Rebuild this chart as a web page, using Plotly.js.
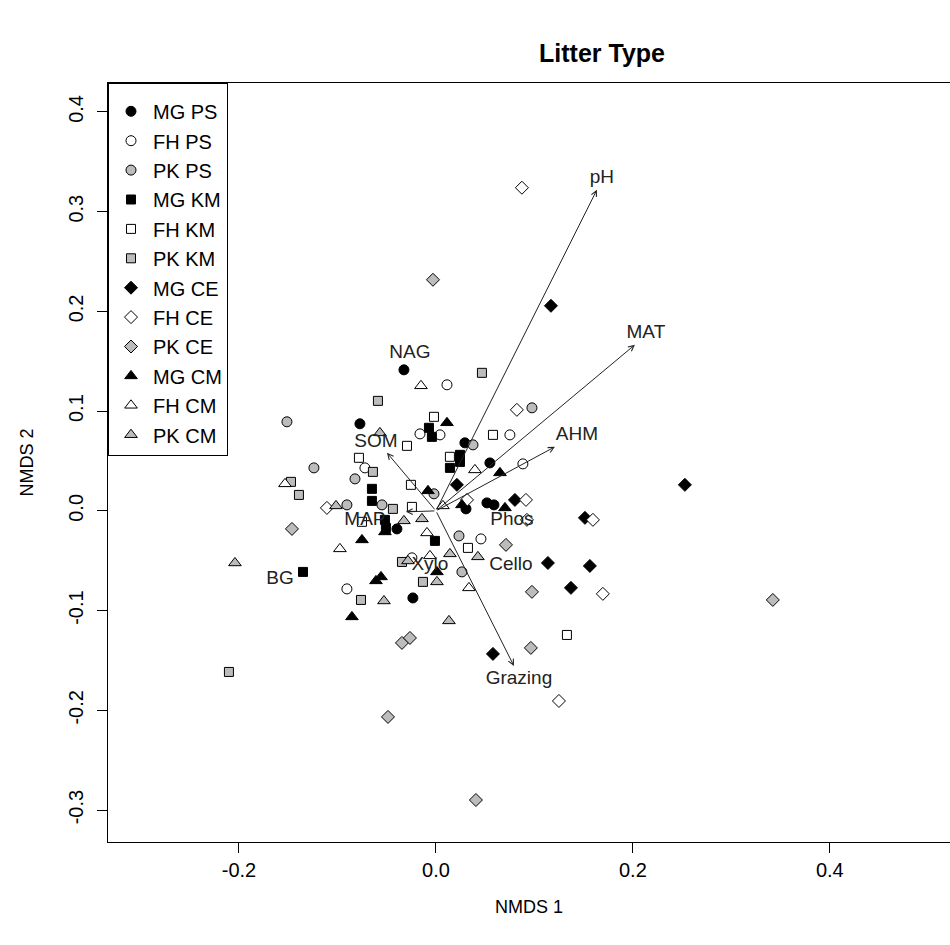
<!DOCTYPE html>
<html>
<head>
<meta charset="utf-8">
<script src="https://cdn.plot.ly/plotly-3.0.1.min.js"></script>
<style>html,body{margin:0;padding:0;background:#fff;}</style>
</head>
<body>
<div id="chart" style="width:950px;height:945px;"></div>
<script>
// ---------- data ----------
const groupNames = ['MG PS','FH PS','PK PS','MG KM','FH KM','PK KM','MG CE','FH CE','PK CE','MG CM','FH CM','PK CM'];

const MG_PS_x = [-0.0325,-0.0772,0.0294,0.0548,0.0518,0.0589,-0.0396,-0.0234,0.0305];
const MG_PS_y = [0.1414,0.0873,0.0682,0.0481,0.0080,0.0060,-0.0181,-0.0873,0.0020];
const FH_PS_x = [0.0112,-0.0162,0.0041,0.0751,0.0883,-0.0721,0.0457,-0.0904,-0.0244];
const FH_PS_y = [0.1264,0.0772,0.0762,0.0762,0.0471,0.0431,-0.0281,-0.0782,-0.0471];
const PK_PS_x = [-0.1513,-0.1239,-0.0822,-0.0904,-0.0548,-0.0020,0.0376,0.0975,0.0234,0.0264];
const PK_PS_y = [0.0893,0.0431,0.0321,0.0060,0.0060,0.0171,0.0662,0.1033,-0.0251,-0.0612];

const MG_KM_x = [-0.0071,-0.0041,0.0244,0.0244,0.0142,-0.0650,-0.0650,-0.0518,-0.0508,-0.0010,-0.1350];
const MG_KM_y = [0.0833,0.0742,0.0562,0.0491,0.0431,0.0221,0.0100,-0.0090,-0.0171,-0.0301,-0.0612];
const FH_KM_x = [-0.0020,-0.0294,0.0579,0.0142,-0.0782,-0.0254,-0.0244,-0.0751,0.0325,0.1330];
const FH_KM_y = [0.0943,0.0652,0.0762,0.0542,0.0532,0.0261,0.0040,-0.0110,-0.0371,-0.1244];
const PK_KM_x = [0.0467,-0.0589,-0.0640,-0.1472,-0.1391,-0.0437,-0.0345,-0.0132,-0.0761,-0.2102];
const PK_KM_y = [0.1384,0.1103,0.0391,0.0291,0.0160,0.0020,-0.0512,-0.0712,-0.0893,-0.1615];

const MG_CE_x = [0.1168,0.0213,0.0802,0.1513,0.2528,0.1137,0.1563,0.1371,0.0579];
const MG_CE_y = [0.2056,0.0261,0.0110,-0.0070,0.0261,-0.0522,-0.0552,-0.0772,-0.1434];
const FH_CE_x = [0.0873,0.0822,0.0315,0.0914,0.1594,0.0924,0.1695,0.1249,-0.1107];
const FH_CE_y = [0.3240,0.1013,0.0110,0.0110,-0.0090,-0.0090,-0.0832,-0.1906,0.0030];
const PK_CE_x = [-0.0030,-0.1462,0.0711,0.0975,0.0964,0.3421,-0.0345,-0.0264,-0.0487,0.0406];
const PK_CE_y = [0.2317,-0.0181,-0.0341,-0.0812,-0.1374,-0.0893,-0.1324,-0.1274,-0.2066,-0.2899];

const MG_CM_x = [0.0112,0.0650,-0.0081,0.0701,0.0264,-0.0518,-0.0751,-0.0609,-0.0558,0.0010,-0.0853];
const MG_CM_y = [0.0883,0.0381,0.0201,0.0030,0.0060,-0.0211,-0.0291,-0.0702,-0.0662,-0.0612,-0.1063];
const FH_CM_x = [-0.0152,0.0396,0.0071,-0.1533,-0.0975,-0.0091,-0.0061,0.0335];
const FH_CM_y = [0.1254,0.0411,0.0050,0.0271,-0.0381,-0.0221,-0.0451,-0.0772];
const PK_CM_x = [-0.0569,-0.1015,-0.0325,-0.0142,-0.0284,0.0142,0.0426,0.0010,-0.0528,0.0132,-0.2041];
const PK_CM_y = [0.0782,0.0050,-0.0100,-0.0080,-0.0502,-0.0431,-0.0461,-0.0712,-0.0903,-0.1103,-0.0522];

// environmental vectors (arrow tips) and their labels
const vecNames  = ['pH','MAT','AHM','Grazing','SOM','MAP'];
const vecTipX   = [0.1635,0.2020,0.1208,0.0792,-0.0497,-0.0305];
const vecTipY   = [0.3220,0.1665,0.0642,-0.1555,0.0582,-0.0010];
const vecLabX   = [0.1685,0.2132,0.1431,0.0843,-0.0609,-0.0721];
const vecLabY   = [0.3340,0.1785,0.0762,-0.1685,0.0692,-0.0090];

// enzyme labels (text only)
const enzNames = ['NAG','BG','Xylo','Cello','Phos'];
const enzX     = [-0.0264,-0.1584,-0.0061,0.0761,0.0772];
const enzY     = [0.1585,-0.0682,-0.0542,-0.0542,-0.0090];

// axis ticks
const xTickVals = [-0.2,0.0,0.2,0.4];
const xTickText = ['-0.2','0.0','0.2','0.4'];
const yTickVals = [-0.3,-0.2,-0.1,0.0,0.1,0.2,0.3,0.4];
const yTickText = ['-0.3','-0.2','-0.1','0.0','0.1','0.2','0.3','0.4'];

// ---------- styling ----------
const FONT = 'Liberation Sans, Arial, sans-serif';
const GRAY = '#bcbcbc';
const xs = [MG_PS_x,FH_PS_x,PK_PS_x,MG_KM_x,FH_KM_x,PK_KM_x,MG_CE_x,FH_CE_x,PK_CE_x,MG_CM_x,FH_CM_x,PK_CM_x];
const ys = [MG_PS_y,FH_PS_y,PK_PS_y,MG_KM_y,FH_KM_y,PK_KM_y,MG_CE_y,FH_CE_y,PK_CE_y,MG_CM_y,FH_CM_y,PK_CM_y];
const symbols = ['circle','square','diamond','triangle-up'];
const sizes   = [10,9,10,11];
const fills   = ['#000000','#ffffff',GRAY];

const traces = [];
groupNames.forEach((name,i)=>{
  const s = Math.floor(i/3), f = i%3;
  traces.push({
    type:'scatter', mode:'markers', name:name,
    x: xs[i], y: ys[i], legendgroup:'g'+i,
    marker:{symbol:symbols[s], size:sizes[s], color:fills[f], line:{color:'#000', width:1}},
    hoverinfo:'skip'
  });
});
traces.push({
  type:'scatter', mode:'text', x:vecLabX, y:vecLabY, text:vecNames, showlegend:false,
  textfont:{family:FONT, size:19, color:'#222'}, hoverinfo:'skip'
});
traces.push({
  type:'scatter', mode:'text', x:enzX, y:enzY, text:enzNames, showlegend:false,
  textfont:{family:FONT, size:19, color:'#222'}, hoverinfo:'skip'
});

const annotations = vecNames.map((n,i)=>({
  x:vecTipX[i], y:vecTipY[i], xref:'x', yref:'y',
  ax:0, ay:0, axref:'x', ayref:'y', text:'', showarrow:true,
  arrowhead:5, arrowsize:1.1, arrowwidth:1, arrowcolor:'#222', standoff:0, startstandoff:0
}));

const layout = {
  width:950, height:945,
  margin:{l:108, r:0, t:83, b:103},
  paper_bgcolor:'#fff', plot_bgcolor:'#fff',
  font:{family:FONT, color:'#000'},
  title:{text:'<b>Litter Type</b>', font:{family:FONT, size:25, color:'#000'},
         xref:'paper', x:0.5867, xanchor:'center', yref:'container', y:0.944, yanchor:'middle'},
  xaxis:{range:[-0.333,0.522], showgrid:false, zeroline:false, showline:true, mirror:true,
         linecolor:'#000', linewidth:1, ticks:'outside', ticklen:10, tickcolor:'#000',
         tickvals:xTickVals, ticktext:xTickText, tickfont:{family:FONT, size:20, color:'#000'},
         title:{text:'NMDS 1', font:{family:FONT, size:18, color:'#000'}, standoff:20}},
  yaxis:{range:[-0.332,0.429], showgrid:false, zeroline:false, showline:true, mirror:false,
         linecolor:'#000', linewidth:1, ticks:'outside', ticklen:10, tickcolor:'#000',
         tickvals:yTickVals, ticktext:yTickText, tickangle:-90, ticklabelstandoff:6,
         tickfont:{family:FONT, size:20, color:'#000'},
         title:{text:'NMDS 2', font:{family:FONT, size:18, color:'#000'}, standoff:26}},
  legend:{x:0, y:1, xanchor:'left', yanchor:'top', bgcolor:'#fff', bordercolor:'#000', borderwidth:1,
          font:{family:FONT, size:20, color:'#000'}, traceorder:'grouped', tracegroupgap:0.4,
          itemwidth:34,
          title:{text:' ', font:{size:6}}},
  annotations:annotations,
  showlegend:true
};

Plotly.newPlot('chart', traces, layout, {displayModeBar:false, staticPlot:true});
</script>
</body>
</html>
